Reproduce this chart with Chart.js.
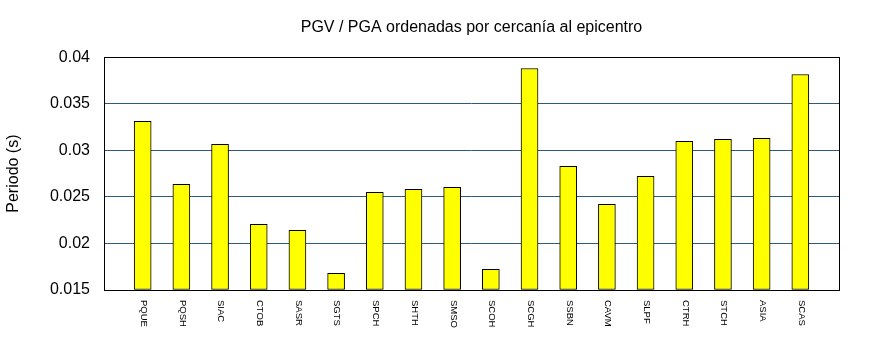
<!DOCTYPE html>
<html>
<head>
<meta charset="utf-8">
<script src="https://cdn.jsdelivr.net/npm/chart.js@4"></script>
<style>
  html, body { margin: 0; padding: 0; background: #fff; }
  #wrap { width: 870px; height: 350px; }
</style>
</head>
<body>
<div id="wrap"><canvas id="c"></canvas></div>
<script>
const FONT = "'Liberation Sans', Arial, sans-serif"
const BAR_FILL = "#ffff00"
const GRID = "#2b5a7a"

// stations, ordered by distance to the epicentre
const stations = [
  "PQUE", "PQSH", "SIAC", "CTOB", "SASR", "SGTS", "SPCH", "SHTH", "SMSO",
  "SCOH", "SCGH", "SSBN", "CAVM", "SLPF", "CTRH", "STCH", "ASIA", "SCAS",
]
// PGV / PGA ratio (s)
const periods = [
  0.0331, 0.02634, 0.03063, 0.02205, 0.02141, 0.01679, 0.02548, 0.0258, 0.02602,
  0.01722, 0.03879, 0.02827, 0.0242, 0.0272, 0.03096, 0.03117, 0.03128, 0.03814,
]
const yTicks = [0.015, 0.02, 0.025, 0.03, 0.035, 0.04]

const Y_MIN = yTicks[0]
const Y_MAX = yTicks[yTicks.length - 1]

// station names run top-to-bottom under each bar, plus the frame
const framePlugin = {
  id: "frame",
  afterDatasetsDraw(chart) {
    const { ctx, chartArea: a, scales } = chart
    ctx.save()
    ctx.strokeStyle = "#000"
    ctx.lineWidth = 1
    ctx.strokeRect(Math.round(a.left) + 0.5, Math.round(a.top) + 0.5,
      Math.round(a.right - a.left), Math.round(a.bottom - a.top))

    ctx.fillStyle = "#000"
    ctx.font = `9.5px ${FONT}`
    ctx.textAlign = "left"
    ctx.textBaseline = "middle"
    stations.forEach((name, i) => {
      const x = scales.x.getPixelForValue(i + 1)
      ctx.save()
      ctx.translate(x + 1, a.bottom + 10)
      ctx.rotate(Math.PI / 2)
      ctx.fillText(name, 0, 0)
      ctx.restore()
    })
    ctx.restore()
  },
}

new Chart(document.getElementById("c"), {
  type: "bar",
  data: {
    datasets: [{
      label: "Periodo",
      data: periods.map((v, i) => ({ x: i + 1, y: v })),
      backgroundColor: BAR_FILL,
      borderColor: "#000",
      borderWidth: 1,
      borderSkipped: false,
      barThickness: 17,
      base: Y_MIN,
    }],
  },
  options: {
    responsive: true,
    maintainAspectRatio: false,
    animation: false,
    layout: { padding: { left: 0, right: 31, top: 0, bottom: 0 } },
    scales: {
      x: {
        type: "linear",
        min: 0,
        max: stations.length + 1,
        offset: false,
        grid: { display: false },
        border: { display: false },
        ticks: { display: false },
        afterFit: (scale) => { scale.height = 60 },
      },
      y: {
        min: Y_MIN,
        max: Y_MAX,
        afterBuildTicks: (scale) => {
          scale.ticks = yTicks.map((v) => ({ value: v }))
        },
        afterFit: (scale) => { scale.width = 104 },
        ticks: {
          color: "#000",
          font: { family: FONT, size: 16 },
          padding: 14,
          callback: (v) => String(+v.toFixed(3)),
        },
        grid: {
          drawTicks: false,
          color: (c) => (c.tick && (c.tick.value === Y_MIN || c.tick.value === Y_MAX)) ? "rgba(0,0,0,0)" : GRID,
          lineWidth: 1,
        },
        border: { display: false },
        title: {
          display: true,
          text: "Periodo (s)",
          color: "#000",
          font: { family: FONT, size: 16 },
          padding: { top: 4, bottom: 0 },
        },
      },
    },
    plugins: {
      legend: { display: false },
      tooltip: { enabled: false },
      title: {
        display: true,
        fullSize: false,
        text: "PGV / PGA ordenadas por cercanía al epicentro",
        color: "#000",
        font: { family: FONT, size: 16, weight: "normal" },
        padding: { top: 18, bottom: 20 },
      },
    },
  },
  plugins: [framePlugin],
})
</script>
</body>
</html>
